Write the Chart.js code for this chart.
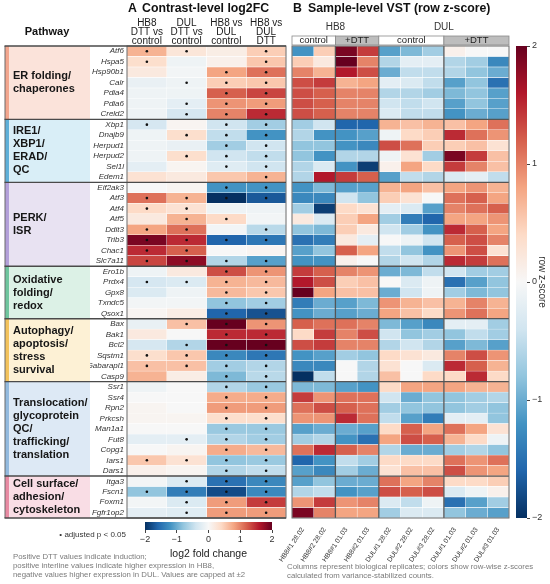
<!DOCTYPE html>
<html><head><meta charset="utf-8">
<script src="https://cdn.jsdelivr.net/npm/chart.js@4.4.1/dist/chart.umd.min.js"></script>
<style>
body{margin:0;background:#fff;}
#wrap{position:relative;width:550px;height:584px;overflow:hidden;font-family:"Liberation Sans",Arial,sans-serif;background:#fff;}
canvas{position:absolute;}
.t{position:absolute;white-space:nowrap;line-height:1;}
</style></head><body><div id="wrap">
<canvas id="cA" width="290" height="584" style="left:0;top:0;width:290px;height:584px"></canvas>
<canvas id="cB" width="265" height="584" style="left:250px;top:0;width:265px;height:584px"></canvas>
<canvas id="cCb" width="45" height="584" style="left:505px;top:0;width:45px;height:584px"></canvas>
<canvas id="cCa" width="180" height="50" style="left:120px;top:512px;width:180px;height:50px"></canvas>
<div class="t" style="left:128px;top:2px;font-size:12.3px;font-weight:bold;color:#111">A</div>
<div class="t" style="left:142px;top:2px;font-size:12.3px;font-weight:bold;color:#111">Contrast-level log2FC</div>
<div class="t" style="left:293px;top:2px;font-size:12.3px;font-weight:bold;color:#111">B</div>
<div class="t" style="left:308px;top:2px;font-size:12.3px;font-weight:bold;color:#111">Sample-level VST (row z-score)</div>
<div class="t" style="left:0;width:94px;text-align:center;top:25.5px;font-size:11px;font-weight:bold;color:#111">Pathway</div>
<div class="t" style="left:30px;width:96px;text-align:right;top:531px;font-size:8px;color:#333">• adjusted p &lt; 0.05</div>
<div class="t" style="left:13px;top:552px;font-size:7.8px;line-height:9.2px;color:#7a7a7a">Positive DTT values indicate induction;<br>positive interline values indicate higher expression in HB8,<br>negative values higher expression in DUL. Values are capped at ±2</div>
<div class="t" style="left:287px;top:561.5px;font-size:7.8px;line-height:9.5px;color:#7a7a7a">Columns represent biological replicates; colors show row-wise z-scores<br>calculated from variance-stabilized counts.</div>
</div>
<script>
// ---------- DATA ----------
const genes = ["Atf6","Hspa5","Hsp90b1","Calr","Pdia4","Pdia6","Creld2",
 "Xbp1","Dnajb9","Herpud1","Herpud2","Sel1l","Edem1",
 "Eif2ak3","Atf3","Atf4","Atf5","Ddit3","Trib3","Chac1","Slc7a11",
 "Ero1b","Prdx4","Gpx8","Txndc5","Qsox1",
 "Bax","Bak1","Bcl2","Sqstm1","Gabarapl1","Casp9",
 "Ssr1","Ssr4","Rpn2","Prkcsh","Man1a1","Fut8","Copg1","Iars1","Dars1",
 "Itga3","Fscn1","Foxm1","Fgfr1op2"];
const pathwayLabels = [["ER folding/","chaperones"],["IRE1/","XBP1/","ERAD/","QC"],["PERK/","ISR"],
 ["Oxidative","folding/","redox"],["Autophagy/","apoptosis/","stress","survival"],
 ["Translocation/","glycoprotein","QC/","trafficking/","translation"],["Cell surface/","adhesion/","cytoskeleton"]];
const pathwaySizes = [7,6,8,5,6,9,4];
const contrastLabels = [["HB8","DTT vs","control"],["DUL","DTT vs","control"],["HB8 vs","DUL","control"],["HB8 vs","DUL","DTT"]];

// log2FC per contrast (capped at ±2)
const hb8Dtt = [0.7,0.35,0.2,-0.15,-0.1,-0.1,-0.1, -0.35,-0.1,-0.1,-0.1,-0.2,0.3, 0.0,1.1,0.4,0.2,0.8,1.9,1.5,1.35, -0.1,-0.35,-0.3,-0.05,0.05, -0.15,0.2,-0.35,0.35,0.6,0.7, -0.1,0.0,0.05,0.05,0.0,-0.2,0.0,0.55,0.1, -0.05,-0.8,-0.05,-0.2];
const dulDtt = [0.25,-0.1,-0.05,-0.1,-0.1,-0.2,-0.35, 0.05,0.35,-0.15,0.35,0.05,0.2, 0.05,0.7,0.3,0.7,1.1,1.5,1.2,1.8, 0.2,-0.3,-0.1,-0.05,0.15, 0.6,0.0,-0.6,0.55,0.6,0.15, 0.0,0.0,0.0,0.05,0.0,-0.2,0.05,0.3,0.05, -0.3,-1.4,-0.3,-0.25];
const ctrlDiff = [0.15,0.1,0.8,0.5,1.2,0.9,1.0, -0.4,-0.5,-0.7,-0.4,-0.25,0.55, -1.2,-2.0,-0.1,0.4,-0.05,-1.6,0.0,-0.6, 1.3,0.7,0.65,-0.8,-1.6, 2.0,1.5,2.0,-1.3,-0.7,-0.9, -0.6,0.75,0.85,0.35,-0.75,-0.6,0.75,-0.8,-0.6, -1.5,-1.8,0.85,0.85];
const dttDiff = [0.5,0.55,1.1,0.55,1.35,0.85,1.5, -0.7,-1.2,-0.4,-0.5,-0.4,0.7, -1.2,-1.7,-0.1,-0.05,-0.55,-1.45,0.05,-1.1, 0.9,0.65,0.55,-0.7,-1.75, 0.9,1.5,2.0,-1.45,-0.6,-0.55, -0.75,0.75,0.85,0.35,-0.75,-0.7,0.65,-0.75,-0.5, -1.3,-1.3,1.4,0.85];
// adjusted p < 0.05 flags
const sigHb8Dtt = [1,1,0,0,0,0,0, 1,0,0,0,0,0, 0,1,1,0,1,1,1,1, 0,1,0,0,0, 0,0,0,1,1,0, 0,0,0,0,0,0,0,1,0, 0,1,0,0];
const sigDulDtt = [1,0,0,1,0,1,1, 0,1,0,1,0,0, 0,1,1,1,1,1,1,1, 0,1,0,0,0, 1,0,1,1,1,0, 0,0,0,0,0,1,0,1,0, 1,1,1,1];
const sigCtrlDiff = [0,0,1,1,1,1,1, 1,1,1,1,1,0, 1,1,0,1,0,1,0,1, 1,1,1,1,1, 1,1,1,1,1,1, 1,1,1,1,1,1,1,1,1, 1,1,1,1];
const sigDttDiff = [1,1,1,1,1,1,1, 1,1,1,1,1,1, 1,1,0,0,1,1,0,1, 1,1,1,1,1, 1,1,1,1,1,1, 1,1,1,1,1,1,1,1,1, 1,1,1,1];

// Sample-level row z-scores (one array per sample column)
const samples = ["HB8#1 28.02","HB8#2 28.02","HB8#1 01.03","HB8#2 01.03","DUL#1 28.02","DUL#2 28.02","DUL#3 28.02","DUL#1 01.03","DUL#2 01.03","DUL#3 01.03"];
const groupNames = ["HB8","DUL"];
const conditionNames = ["control","+DTT","control","+DTT"];
const conditionSizes = [2,2,3,3];
const zHB8_1_2802 = [-1.2,0.5,1.0,1.3,1.3,1.3,1.3, -0.7,-0.6,-0.8,-0.8,-0.6,-0.6, -1.2,-1.3,-0.7,0.2,-0.8,-1.5,-1.1,-1.2, 1.4,1.6,2.0,-1.4,-1.2, 1.2,0.4,1.3,-1.2,-1.3,-2.0, -0.9,1.4,1.1,0.9,-1.1,-0.7,1.1,-1.6,-1.1, -1.1,-0.6,0.9,1.9];
const zHB8_2_2802 = [0.5,0.2,0.7,1.4,1.2,1.2,1.2, -0.4,-1.2,-0.8,-1.2,-0.3,1.6, -0.9,-1.3,-1.9,-0.3,-0.9,-1.4,-0.8,-1.2, 1.2,1.3,0.8,-1.0,-1.0, 1.1,1.4,1.4,-1.1,-1.3,-0.5, -0.9,0.9,1.3,0.9,-1.0,-0.6,1.5,-1.2,-1.3, -0.8,-0.5,1.4,1.0];
const zHB8_1_0103 = [1.9,2.0,1.6,0.7,1.0,1.0,1.0, -1.6,-1.2,-1.2,-0.6,-1.2,1.4, -1.1,-0.4,0.4,0.5,0.5,0.2,1.2,0.1, 1.0,0.5,0.6,-1.1,-1.1, 1.1,1.0,1.0,-0.7,0.0,0.0, -1.1,1.1,1.2,1.5,-1.0,-1.2,1.2,-0.5,-0.7, -1.0,-1.2,0.9,0.8];
const zHB8_2_0103 = [1.4,1.0,1.3,0.8,1.0,1.0,1.0, -1.6,-1.1,-1.3,-0.6,-1.9,1.2, -1.1,-0.8,0.3,0.8,0.2,-0.2,0.8,0.0, 0.9,0.6,0.6,-0.9,-1.0, 1.0,1.3,1.0,-0.8,-0.6,-0.6, -1.2,1.1,1.1,1.1,-1.1,-1.5,1.0,-0.7,-1.0, -1.0,-1.1,1.0,0.8];
const zDUL_1_2802 = [-1.1,-0.6,-1.0,-0.2,-0.6,-0.4,-0.3, 0.7,-0.1,1.3,-0.1,0.1,-1.1, 0.7,0.5,-0.2,-0.7,-0.4,0.0,-0.5,-0.6, -1.0,0.0,-1.0,0.9,0.8, -0.9,-0.4,-0.6,0.4,0.3,0.6, 0.4,-0.4,-0.7,-0.5,0.4,0.8,-0.6,0.4,0.3, 1.1,1.3,-0.3,-0.7];
const zDUL_2_2802 = [-0.9,-0.2,-0.5,-0.3,-0.6,-0.5,-0.5, 0.6,0.4,1.1,0.3,0.8,-0.5, 0.8,0.3,-0.3,-1.4,-0.7,-0.1,-0.8,-0.4, -0.9,-0.3,-0.4,0.7,0.6, -1.1,-0.8,-0.4,0.3,0.0,0.0, 0.8,-1.0,-0.8,-1.1,1.2,1.3,-1.0,0.4,0.6, 0.8,1.2,-0.5,-0.3];
const zDUL_3_2802 = [-0.7,-0.2,-0.5,-0.5,-0.7,-0.4,-0.5, 0.7,0.5,0.5,-0.7,0.4,-0.6, 0.6,0.0,-1.1,-1.6,-1.2,-0.4,-1.2,-0.6, -0.5,-0.1,-0.1,0.6,0.4, -1.3,-0.7,-0.6,0.2,-0.3,0.4, 0.8,-0.8,-0.8,-1.4,0.8,1.2,-1.0,0.4,0.6, 1.0,1.3,-0.1,-0.3];
const zDUL_1_0103 = [0.1,-0.6,-0.6,-1.1,-0.9,-1.1,-1.2, 0.6,1.5,0.5,1.9,1.4,-0.3, 0.8,1.1,1.0,0.8,1.5,1.2,0.9,1.5, -0.4,-1.5,-0.7,0.7,0.9, -0.2,-0.8,-1.1,1.0,1.5,0.4, 0.8,-0.8,-0.8,-0.2,1.1,0.7,-0.7,1.1,1.3, 0.4,-0.3,-1.5,-0.8];
const zDUL_2_0103 = [0.0,-0.7,-0.8,-0.8,-0.8,-0.8,-1.0, 0.8,1.1,0.6,1.4,1.0,-0.2, 0.9,1.2,1.1,0.8,1.2,1.3,1.3,1.4, -0.7,-1.1,-0.9,1.0,1.1, -0.2,-0.5,-0.9,1.3,1.2,1.5, 0.7,-0.7,-0.7,-0.2,0.8,0.4,-0.6,0.9,0.9, 0.4,-0.1,-1.1,-1.0];
const zDUL_3_0103 = [0.0,-1.3,-1.0,-1.5,-1.1,-1.1,-1.1, 1.1,0.9,0.3,0.6,0.6,-0.5, 0.7,0.8,1.2,0.9,0.8,1.0,0.3,1.1, -0.7,-0.8,-0.8,0.7,0.8, -0.7,-0.7,-1.1,0.9,0.7,0.4, 0.7,-0.6,-0.8,-0.8,0.3,-0.1,-0.8,1.1,0.8, 0.5,0.1,-0.7,-1.1];
const colorTicks = [-2,-1,0,1,2];

// ---------- STYLE ----------
const FONT = '"Liberation Sans", Arial, sans-serif';
Chart.defaults.font.family = FONT;
Chart.defaults.color = '#333';
const PATH_BG = ['#fbe3da','#d9eef7','#e8e2f2','#dcf1e6','#fdf1d5','#dde9f5','#f9dde5'];
const PATH_STRIP = ['#f2a68e','#5eafd8','#b3a0d9','#6fc59e','#f3c25b','#93bade','#e88ba3'];
const RDBU = ['#053061','#2166ac','#4393c3','#92c5de','#d1e5f0','#f7f7f7','#fddbc7','#f4a582','#d6604d','#b2182b','#67001f'];
function hex2rgb(h){return [1,3,5].map(i=>parseInt(h.slice(i,i+2),16));}
function rdbu(v){
  const t=(Math.max(-2,Math.min(2,v))+2)/4*10; const i=Math.min(9,Math.floor(t)); const f=t-i;
  const a=hex2rgb(RDBU[i]), b=hex2rgb(RDBU[i+1]);
  return 'rgb('+a.map((x,k)=>Math.round(x+(b[k]-x)*f)).join(',')+')';
}
function gradient(chart, horizontal){
  const ca=chart.chartArea; if(!ca) return '#ccc';
  const g = horizontal ? chart.ctx.createLinearGradient(ca.left,0,ca.right,0) : chart.ctx.createLinearGradient(0,ca.bottom,0,ca.top);
  RDBU.forEach((c,k)=>g.addColorStop(k/10,c));
  return g;
}
const minus = v => String(v).replace('-', '\u2212');
const boundaries = pathwaySizes.reduce((a,n)=>{a.push((a.length?a[a.length-1]:0)+n);return a;},[]).slice(0,-1);
const noPlug = {legend:{display:false}, tooltip:{enabled:false}};

function cellSets(columns){
  return columns.map((vals,c)=>({type:'bar', indexAxis:'y', data:genes.map(()=>[c,c+1]),
    backgroundColor:vals.map(rdbu), borderColor:'#ffffff', borderWidth:0.5, borderSkipped:false,
    barPercentage:1, categoryPercentage:1, grouped:false, order:1}));
}
function rowEdge(y, i){ // pixel of top edge of row i
  const half=(y.getPixelForValue(1)-y.getPixelForValue(0))/2;
  return i<genes.length ? y.getPixelForValue(i)-half : y.getPixelForValue(genes.length-1)+half;
}

// ---------- PANEL A ----------
const colsA=[hb8Dtt,dulDtt,ctrlDiff,dttDiff];
const sigA=[sigHb8Dtt,sigDulDtt,sigCtrlDiff,sigDttDiff];
const dotsA=[];
sigA.forEach((s,c)=>s.forEach((v,i)=>{ if(v) dotsA.push({x:c+0.5,y:genes[i]}); }));
const pluginA={
  id:'pathA',
  beforeDraw(chart){
    const {ctx,scales:{y}}=chart; let start=0;
    ctx.save();
    pathwaySizes.forEach((n,g)=>{
      const y0=rowEdge(y,start), y1=rowEdge(y,start+n);
      ctx.fillStyle=PATH_BG[g]; ctx.fillRect(5,y0,85,y1-y0);
      ctx.fillStyle=PATH_STRIP[g]; ctx.fillRect(5,y0,4,y1-y0);
      ctx.fillStyle='#161616'; ctx.font='bold 11px '+FONT; ctx.textBaseline='middle'; ctx.textAlign='left';
      const lines=pathwayLabels[g], cy=(y0+y1)/2, lh=13;
      lines.forEach((t,k)=>ctx.fillText(t,13,cy+(k-(lines.length-1)/2)*lh));
      start+=n;
    });
    ctx.restore();
  },
  afterDatasetsDraw(chart){
    const {ctx,scales:{x,y}}=chart;
    const top=rowEdge(y,0), bot=rowEdge(y,genes.length);
    ctx.save();
    ctx.strokeStyle='#6b6b6b'; ctx.lineWidth=1;
    ctx.strokeRect(x.getPixelForValue(0),top,x.getPixelForValue(4)-x.getPixelForValue(0),bot-top);
    ctx.beginPath(); ctx.moveTo(5,top); ctx.lineTo(5,bot); ctx.stroke();
    ctx.strokeStyle='#4a4a4a'; ctx.lineWidth=1.4;
    [0,...boundaries,genes.length].forEach(i=>{
      const yy=rowEdge(y,i); ctx.beginPath(); ctx.moveTo(4.5,yy); ctx.lineTo(x.getPixelForValue(4),yy); ctx.stroke();
    });
    ctx.restore();
  },
  afterDraw(chart){
    const {ctx,scales:{x}}=chart;
    ctx.save(); ctx.fillStyle='#1a1a1a'; ctx.font='10px '+FONT; ctx.textAlign='center'; ctx.textBaseline='middle';
    contrastLabels.forEach((lines,c)=>{
      const cx=x.getPixelForValue(c+0.5);
      lines.forEach((t,k)=>ctx.fillText(t,cx,23.5+k*9));
    });
    ctx.restore();
  }
};
new Chart(document.getElementById('cA'),{
  type:'bar',
  data:{labels:genes, datasets:[{type:'scatter', data:dotsA, pointRadius:1.3, pointBackgroundColor:'#111', pointBorderWidth:0, order:-1}, ...cellSets(colsA)]},
  options:{responsive:false, animation:false, indexAxis:'y', plugins:noPlug,
    layout:{padding:{left:90,right:3,top:46,bottom:66}},
    scales:{
      x:{type:'linear',min:0,max:4,display:false},
      y:{type:'category',labels:genes,offset:true,grid:{display:false,drawTicks:false},border:{display:false},
        ticks:{autoSkip:false,padding:3,color:'#333',font:{size:8,style:'italic'}},
        afterFit(s){s.width=37;}}
    }},
  plugins:[pluginA]
});

// ---------- PANEL B ----------
const colsB=[zHB8_1_2802,zHB8_2_2802,zHB8_1_0103,zHB8_2_0103,zDUL_1_2802,zDUL_2_2802,zDUL_3_2802,zDUL_1_0103,zDUL_2_0103,zDUL_3_0103];
const pluginB={
  id:'pathB',
  afterDatasetsDraw(chart){
    const {ctx,scales:{x,y}}=chart;
    const top=rowEdge(y,0), bot=rowEdge(y,genes.length), l=x.getPixelForValue(0), r=x.getPixelForValue(samples.length);
    ctx.save(); ctx.strokeStyle='#555'; ctx.lineWidth=1.3;
    boundaries.forEach(i=>{const yy=rowEdge(y,i); ctx.beginPath(); ctx.moveTo(l,yy); ctx.lineTo(r,yy); ctx.stroke();});
    let acc=0; conditionSizes.slice(0,-1).forEach(n=>{acc+=n; const xx=x.getPixelForValue(acc); ctx.beginPath(); ctx.moveTo(xx,top); ctx.lineTo(xx,bot); ctx.stroke();});
    ctx.strokeStyle='#6b6b6b'; ctx.lineWidth=1; ctx.strokeRect(l,top,r-l,bot-top);
    ctx.restore();
  },
  afterDraw(chart){
    const {ctx,scales:{x}}=chart;
    ctx.save(); ctx.textAlign='center'; ctx.textBaseline='middle';
    let acc=0;
    conditionSizes.forEach((n,k)=>{
      const x0=x.getPixelForValue(acc), x1=x.getPixelForValue(acc+n);
      ctx.fillStyle=k%2?'#bdbdbd':'#ffffff'; ctx.fillRect(x0,36,x1-x0,9);
      ctx.strokeStyle='#8a8a8a'; ctx.lineWidth=0.8; ctx.strokeRect(x0,36,x1-x0,9);
      ctx.fillStyle='#222'; ctx.font='9.5px '+FONT; ctx.fillText(conditionNames[k],(x0+x1)/2,40.8);
      acc+=n;
    });
    ctx.font='10px '+FONT; ctx.fillStyle='#333';
    ctx.fillText(groupNames[0],(x.getPixelForValue(0)+x.getPixelForValue(4))/2,27.5);
    ctx.fillText(groupNames[1],(x.getPixelForValue(4)+x.getPixelForValue(10))/2,27.5);
    ctx.restore();
  }
};
new Chart(document.getElementById('cB'),{
  type:'bar',
  data:{labels:genes, datasets:cellSets(colsB)},
  options:{responsive:false, animation:false, indexAxis:'y', plugins:noPlug,
    layout:{padding:{left:42,right:6,top:46,bottom:0}},
    scales:{
      x:{type:'linear',min:0,max:samples.length,grid:{display:false},border:{display:false},
        afterBuildTicks(s){s.ticks=samples.map((_,i)=>({value:i+0.5}));},
        afterFit(s){s.height=66; s.paddingLeft=0; s.paddingRight=0;},
        ticks:{autoSkip:false,minRotation:56,maxRotation:56,padding:0,color:'#333',font:{size:6.8},callback:(v,i)=>samples[i]}},
      y:{type:'category',labels:genes,offset:true,display:false}
    }},
  plugins:[pluginB]
});

// ---------- COLOR BARS ----------
new Chart(document.getElementById('cCb'),{
  type:'bar',
  data:{labels:[''], datasets:[{data:[[colorTicks[0],colorTicks[colorTicks.length-1]]], backgroundColor:c=>gradient(c.chart,false), barPercentage:1, categoryPercentage:1}]},
  options:{responsive:false, animation:false, plugins:noPlug,
    layout:{padding:{left:11,right:0,top:46,bottom:66}},
    scales:{
      x:{display:false},
      y:{type:'linear',position:'right',min:-2,max:2,afterBuildTicks(s){s.ticks=colorTicks.map(v=>({value:v}));},
        grid:{drawOnChartArea:false,tickLength:3,color:'#444'},border:{display:false},
        ticks:{padding:2,color:'#333',font:{size:9},callback:v=>minus(v)},
        title:{display:true,text:'row z-score',color:'#333',font:{size:10},padding:{top:2,bottom:0}},
        afterFit(s){s.width=23;}}
    }}
});
new Chart(document.getElementById('cCa'),{
  type:'bar',
  data:{labels:[''], datasets:[{indexAxis:'y', data:[[colorTicks[0],colorTicks[colorTicks.length-1]]], backgroundColor:c=>gradient(c.chart,true), barPercentage:1, categoryPercentage:1}]},
  options:{responsive:false, animation:false, indexAxis:'y', plugins:noPlug,
    layout:{padding:{left:25,right:28,top:10,bottom:2}},
    scales:{
      y:{display:false},
      x:{type:'linear',min:-2,max:2,afterBuildTicks(s){s.ticks=colorTicks.map(v=>({value:v}));},
        grid:{drawOnChartArea:false,tickLength:3,color:'#444'},border:{display:false},
        ticks:{padding:1,color:'#333',font:{size:9},callback:v=>minus(v)},
        title:{display:true,text:'log2 fold change',color:'#222',font:{size:10.5},padding:{top:0,bottom:0}},
        afterFit(s){s.height=30;}}
    }}
});
</script>
</body></html>
